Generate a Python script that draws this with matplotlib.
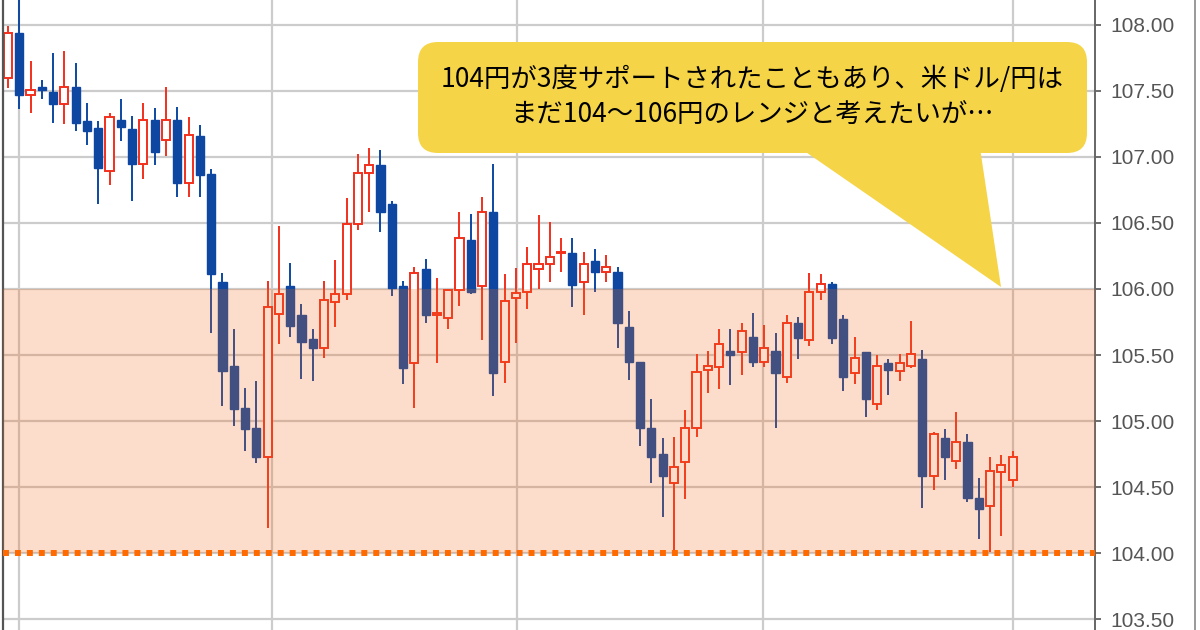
import matplotlib
matplotlib.use('Agg')
import matplotlib.pyplot as plt
from matplotlib.patches import FancyBboxPatch, Polygon
from matplotlib.lines import Line2D
import numpy as np

# daily candles (USD/JPY)
opens = [107.60, 107.94, 107.47, 107.53, 107.49, 107.40, 107.53, 107.27, 107.22, 106.89,
         107.28, 107.21, 106.95, 107.28, 107.13, 107.28, 106.80, 107.16, 106.87, 106.05,
         105.42, 105.10, 104.95, 104.73, 105.81, 106.02, 105.80, 105.62, 105.55, 105.90,
         105.96, 106.49, 106.88, 106.94, 106.64, 106.02, 105.44, 106.15, 105.80, 105.78,
         105.99, 106.37, 106.02, 106.58, 105.45, 105.93, 105.98, 106.15, 106.19, 106.27,
         106.27, 106.05, 106.21, 106.13, 106.13, 105.71, 105.45, 104.95, 104.75, 104.53,
         104.69, 104.95, 105.39, 105.41, 105.53, 105.52, 105.64, 105.45, 105.53, 105.33,
         105.74, 105.61, 105.98, 106.04, 105.77, 105.36, 105.52, 105.13, 105.44, 105.38,
         105.42, 105.47, 104.58, 104.87, 104.70, 104.84, 104.42, 104.36, 104.61, 104.55]
highs = [107.99, 108.22, 107.73, 107.58, 107.79, 107.80, 107.71, 107.41, 107.27, 107.33,
         107.44, 107.31, 107.41, 107.37, 107.53, 107.38, 107.30, 107.24, 106.91, 106.12,
         105.70, 105.25, 105.30, 106.06, 106.48, 106.20, 105.89, 105.70, 106.06, 106.22,
         106.69, 107.02, 107.07, 107.05, 106.67, 106.06, 106.17, 106.23, 106.08, 106.00,
         106.58, 106.57, 106.70, 106.95, 106.11, 106.16, 106.32, 106.56, 106.51, 106.39,
         106.39, 106.28, 106.30, 106.26, 106.17, 105.83, 105.45, 105.17, 104.87, 104.88,
         105.08, 105.51, 105.53, 105.70, 105.70, 105.74, 105.82, 105.73, 105.67, 105.80,
         105.79, 106.12, 106.11, 106.05, 105.80, 105.64, 105.52, 105.50, 105.47, 105.51,
         105.76, 105.54, 104.92, 104.94, 105.07, 104.90, 104.57, 104.73, 104.74, 104.77]
lows = [107.52, 107.36, 107.33, 107.44, 107.26, 107.25, 107.20, 107.09, 106.64, 106.79,
        107.12, 106.67, 106.83, 106.94, 107.01, 106.70, 106.70, 106.70, 105.67, 105.11,
        104.96, 104.77, 104.68, 104.19, 105.58, 105.64, 105.32, 105.30, 105.48, 105.71,
        105.92, 106.45, 106.58, 106.43, 105.95, 105.28, 105.10, 105.74, 105.44, 105.70,
        105.87, 105.96, 105.61, 105.19, 105.29, 105.59, 105.85, 106.00, 106.05, 106.13,
        105.86, 105.80, 105.98, 106.05, 105.55, 105.31, 104.81, 104.53, 104.27, 104.01,
        104.41, 104.88, 105.21, 105.24, 105.27, 105.35, 105.41, 105.41, 104.95, 105.29,
        105.47, 105.57, 105.92, 105.58, 105.23, 105.28, 105.03, 105.08, 105.20, 105.30,
        105.40, 104.34, 104.48, 104.55, 104.64, 104.39, 104.11, 104.01, 104.13, 104.50]
closes = [107.94, 107.47, 107.51, 107.51, 107.40, 107.53, 107.26, 107.20, 106.92, 107.30,
          107.23, 106.95, 107.28, 107.04, 107.28, 106.80, 107.17, 106.86, 106.11, 105.38,
          105.09, 104.94, 104.73, 105.86, 105.96, 105.72, 105.60, 105.55, 105.92, 105.96,
          106.49, 106.88, 106.94, 106.58, 106.01, 105.40, 106.12, 105.80, 105.82, 105.99,
          106.39, 105.98, 106.58, 105.36, 105.91, 105.97, 106.19, 106.19, 106.24, 106.28,
          106.03, 106.19, 106.13, 106.17, 105.74, 105.45, 104.95, 104.73, 104.58, 104.65,
          104.95, 105.37, 105.42, 105.58, 105.50, 105.68, 105.45, 105.55, 105.36, 105.74,
          105.63, 105.98, 106.04, 105.63, 105.33, 105.48, 105.17, 105.42, 105.39, 105.44,
          105.51, 104.58, 104.90, 104.73, 104.84, 104.42, 104.33, 104.62, 104.67, 104.73]

range_low, range_high = 104.0, 106.0
yticks = [103.5, 104.0, 104.5, 105.0, 105.5, 106.0, 106.5, 107.0, 107.5, 108.0]
vgrid_at = [1, 23.4, 45.1, 66.9, 89]   # date separators

note = "104円が3度サポートされたこともあり、米ドル/円は\nまだ104～106円のレンジと考えたいが…"

up_col = '#f2301c'
down_col = '#0d47a1'

fig = plt.figure(figsize=(12, 6.3), dpi=100)
ax = fig.add_axes([0.0025, 0, 0.91, 1])

x = np.arange(len(opens))
o = np.array(opens)
c = np.array(closes)
up = c >= o

# grid
for gx in vgrid_at:
    ax.axvline(gx, color='#cccccc', lw=1.6, zorder=0)
for gy in yticks:
    ax.axhline(gy, color='#cccccc', lw=1.6, zorder=0)

# wicks + bodies
ax.vlines(x[up], np.array(lows)[up], np.array(highs)[up], color=up_col, lw=1.4, zorder=2)
ax.vlines(x[~up], np.array(lows)[~up], np.array(highs)[~up], color=down_col, lw=1.4, zorder=2)
body_h = np.maximum(np.abs(c - o), 0.004)
ax.bar(x[up], body_h[up], bottom=o[up], width=0.72, facecolor='white',
       edgecolor=up_col, lw=1.4, zorder=2.5)
ax.bar(x[~up], body_h[~up], bottom=c[~up], width=0.72, facecolor=down_col,
       edgecolor=down_col, lw=1.0, zorder=2.5)

# range band + support line
ax.axhspan(range_low, range_high, facecolor='#f46a1a', alpha=0.23, lw=0, zorder=3)
ax.axhline(range_low, color='#ff6a00', lw=4.3, linestyle=(0, (1, 1)),
           dash_capstyle='butt', zorder=4)

ax.set_xlim(-0.44, 96.3)
ax.set_ylim(103.417, 108.189)
ax.set_xticks([])
ax.set_yticks(yticks)
ax.yaxis.tick_right()
ax.set_yticklabels(['%.2f' % v for v in yticks], fontsize=15, color='#555555',
                   family='Liberation Sans')
ax.tick_params(axis='y', direction='out', length=4, width=1.2, color='#555555', pad=7)
for s in ['top', 'bottom']:
    ax.spines[s].set_visible(False)
ax.spines['left'].set_color('#555555')
ax.spines['left'].set_linewidth(1.6)
ax.spines['right'].set_color('#666666')
ax.spines['right'].set_linewidth(1.4)

# outer right border
fig.add_artist(Line2D([1195 / 1200, 1195 / 1200], [0, 1], color='#888888', lw=1.2))

# speech bubble (pixel coordinates overlay)
ov = fig.add_axes([0, 0, 1, 1], zorder=10)
ov.set_xlim(0, 1200)
ov.set_ylim(630, 0)
ov.axis('off')
ov.patch.set_alpha(0)
bubble = '#f5d547'
ov.add_patch(Polygon([(800, 148), (980, 148), (1001, 287)], closed=True,
                     facecolor=bubble, edgecolor='none'))
ov.add_patch(FancyBboxPatch((418, 42), 669, 111,
                            boxstyle='round,pad=0,rounding_size=20',
                            facecolor=bubble, edgecolor='none'))
ov.text(752, 97, note, ha='center', va='center', fontsize=19, linespacing=1.45,
        color='black', family=['Noto Sans CJK JP', 'DejaVu Sans'])

fig.savefig('out.png', dpi=100)
